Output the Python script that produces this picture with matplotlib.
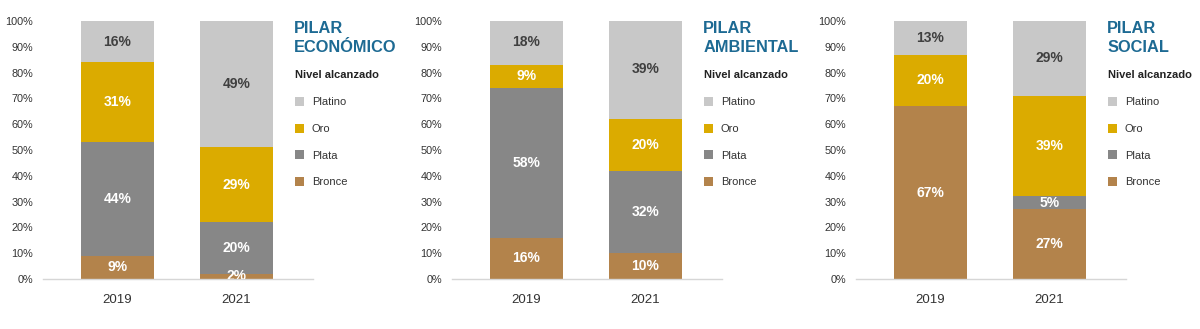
import numpy as np
import matplotlib.pyplot as plt
from matplotlib.patches import Patch

plt.rcParams['font.family'] = ['Liberation Sans', 'DejaVu Sans']

# Data
years = ['2019', '2021']
levels = ['Bronce', 'Plata', 'Oro', 'Platino']
colors = ['#b3834b', '#878787', '#dbab00', '#c8c8c8']
label_colors = ['white', 'white', 'white', '#404040']

titles = ['PILAR\nECONÓMICO', 'PILAR\nAMBIENTAL', 'PILAR\nSOCIAL']

# values per pilar for 2019 and 2021
economico = {'Bronce': [9, 2], 'Plata': [44, 20], 'Oro': [31, 29], 'Platino': [16, 49]}
ambiental = {'Bronce': [16, 10], 'Plata': [58, 32], 'Oro': [9, 20], 'Platino': [18, 39]}
social = {'Bronce': [67, 27], 'Plata': [0, 5], 'Oro': [20, 39], 'Platino': [13, 29]}
pilares = [economico, ambiental, social]

fig = plt.figure(figsize=(12, 3.29), dpi=100)
W, H = 1200, 329
ax_lefts = [43, 452, 856]
ax_w = 270
bottom_px, top_px = 279, 21

x = np.arange(len(years))
for left, data, title in zip(ax_lefts, pilares, titles):
    ax = fig.add_axes([left / W, 1 - bottom_px / H, ax_w / W, (bottom_px - top_px) / H])
    base = np.zeros(len(years))
    handles = []
    for lvl, col, lcol in zip(levels, colors, label_colors):
        vals = np.array(data[lvl], dtype=float)
        ax.bar(x, vals, bottom=base, width=0.613, color=col, linewidth=0, zorder=2)
        for xi, v, b in zip(x, vals, base):
            if v > 0:
                ax.text(xi, b + v / 2, f'{int(v)}%', ha='center', va='center',
                        color=lcol, fontsize=10, fontweight='bold', clip_on=True, zorder=3)
        base += vals
        handles.append(Patch(facecolor=col, edgecolor='none', label=lvl))

    ax.set_ylim(0, 100)
    ax.set_xlim(-0.626, 1.643)
    ax.set_yticks(np.arange(0, 101, 10))
    ax.set_yticklabels([f'{t}%' for t in range(0, 101, 10)])
    ax.set_xticks(x)
    ax.set_xticklabels(years)
    ax.tick_params(axis='y', length=0, labelsize=7.8, labelcolor='#333333', pad=7)
    ax.tick_params(axis='x', length=0, labelsize=9.5, labelcolor='#333333', pad=11)
    for s in ['top', 'right', 'left']:
        ax.spines[s].set_visible(False)
    ax.spines['bottom'].set_color('#d6d6d6')
    ax.spines['bottom'].set_linewidth(1)

    ax.text(0.93, 1.0, title, transform=ax.transAxes, ha='left', va='top',
            fontsize=11.8, fontweight='bold', color='#1d6a93', linespacing=1.3)

    leg = ax.legend(handles=handles[::-1], loc='upper left', bbox_to_anchor=(0.92, 0.822),
                    frameon=False, fontsize=8, title='Nivel alcanzado',
                    title_fontproperties={'weight': 'bold', 'size': 8},
                    handlelength=0.85, handleheight=0.85, handletextpad=0.7,
                    labelspacing=1.48, alignment='left', borderaxespad=0,
                    borderpad=0.3)
    leg._legend_box.sep = 12
    leg.get_title().set_color('#222222')
    for t in leg.get_texts():
        t.set_color('#333333')

fig.savefig('out.png', dpi=100)
